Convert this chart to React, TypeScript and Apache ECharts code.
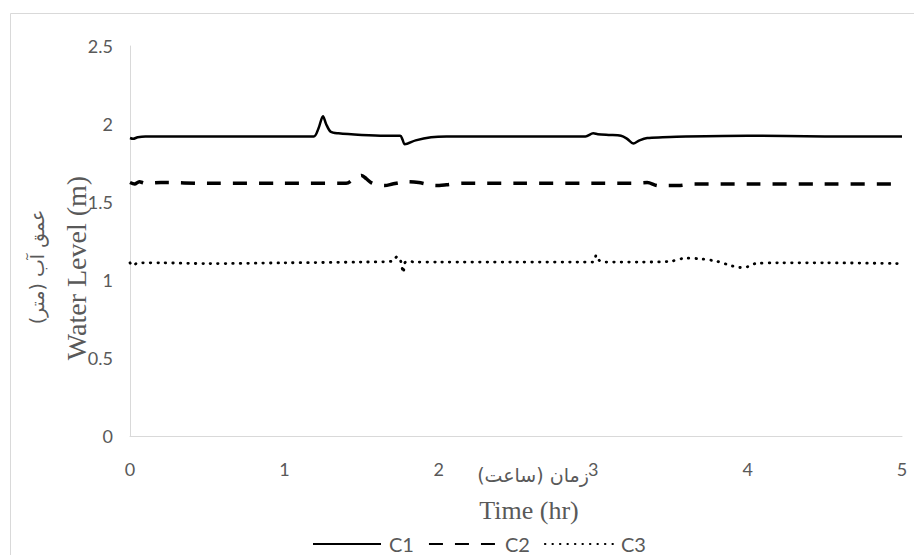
import React, { useEffect, useRef } from "react";
import * as echarts from "echarts";

const xTicks = [0, 1, 2, 3, 4, 5];
const yTicks = [0, 0.5, 1, 1.5, 2, 2.5];

const c1Time = [0, 0.02, 0.05, 0.1, 0.5, 1.0, 1.19, 1.22, 1.25, 1.27, 1.3, 1.35, 1.5, 1.65, 1.75, 1.765, 1.78, 1.85, 1.95, 2.05, 2.5, 2.95, 3.0, 3.03, 3.1, 3.18, 3.22, 3.26, 3.3, 3.35, 3.45, 3.6, 4.0, 4.5, 5.0];
const c1Level = [1.91, 1.905, 1.915, 1.92, 1.92, 1.92, 1.92, 1.97, 2.05, 2.0, 1.95, 1.94, 1.93, 1.925, 1.925, 1.9, 1.87, 1.895, 1.915, 1.92, 1.92, 1.92, 1.94, 1.935, 1.93, 1.925, 1.905, 1.875, 1.895, 1.91, 1.915, 1.92, 1.925, 1.92, 1.92];

const c2Time = [0, 0.03, 0.06, 0.1, 0.2, 0.5, 1.0, 1.4, 1.46, 1.5, 1.53, 1.56, 1.6, 1.65, 1.7, 1.75, 1.8, 1.87, 1.92, 1.98, 2.05, 2.15, 2.5, 3.0, 3.25, 3.35, 3.42, 3.55, 3.65, 4.0, 4.5, 5.0];
const c2Level = [1.625, 1.615, 1.63, 1.62, 1.625, 1.62, 1.62, 1.62, 1.655, 1.67, 1.65, 1.625, 1.61, 1.605, 1.615, 1.625, 1.63, 1.625, 1.615, 1.605, 1.61, 1.62, 1.62, 1.62, 1.62, 1.625, 1.605, 1.605, 1.615, 1.615, 1.615, 1.615];

const c3Time = [0, 0.02, 0.04, 0.08, 0.2, 0.5, 1.0, 1.5, 1.7, 1.73, 1.75, 1.76, 1.77, 1.78, 1.8, 1.85, 2.0, 2.5, 3.0, 3.02, 3.04, 3.08, 3.3, 3.5, 3.6, 3.7, 3.8, 3.9, 3.95, 4.0, 4.05, 4.2, 4.5, 5.0];
const c3Level = [1.11, 1.09, 1.105, 1.11, 1.11, 1.105, 1.11, 1.115, 1.12, 1.15, 1.13, 1.09, 1.045, 1.11, 1.12, 1.115, 1.115, 1.115, 1.115, 1.16, 1.125, 1.115, 1.115, 1.12, 1.14, 1.135, 1.12, 1.09, 1.08, 1.085, 1.105, 1.11, 1.11, 1.105];

const seriesNames = ["C1", "C2", "C3"];

const pair = (t: number[], v: number[]) => t.map((x, i) => [x, v[i]]);

export default function App() {
  const ref = useRef<HTMLDivElement>(null);
  useEffect(() => {
    if (!ref.current) return;
    const chart = echarts.init(ref.current, undefined, { renderer: "svg" });
    const labelFont = "Lato, 'Open Sans', sans-serif";
    const grey = "#595959";
    chart.setOption({
      animation: false,
      backgroundColor: "#ffffff",
      grid: { left: 130, right: 12, top: 46, bottom: 119 },
      xAxis: {
        type: "value",
        min: xTicks[0],
        max: xTicks[xTicks.length - 1],
        interval: 1,
        axisLine: { show: true, lineStyle: { color: "#d9d9d9", width: 1 } },
        axisTick: { show: false },
        splitLine: { show: false },
        axisLabel: { color: grey, fontSize: 18, fontFamily: labelFont, margin: 24 },
      },
      yAxis: {
        type: "value",
        min: yTicks[0],
        max: yTicks[yTicks.length - 1],
        interval: 0.5,
        axisLine: { show: true, lineStyle: { color: "#d9d9d9", width: 1 } },
        axisTick: { show: false },
        splitLine: { show: false },
        axisLabel: { color: grey, fontSize: 18, fontFamily: labelFont, margin: 17 },
      },
      legend: {
        left: 307,
        top: 529,
        itemWidth: 68,
        itemHeight: 14,
        itemGap: 14,
        itemStyle: { opacity: 0 },
        textStyle: { color: grey, fontSize: 20, fontFamily: labelFont, padding: [0, 0, 0, 3] },
        data: seriesNames,
      },
      graphic: [
        {
          type: "rect",
          shape: { x: 10.5, y: 13.5, width: 930, height: 600 },
          style: { fill: "none", stroke: "#d9d9d9", lineWidth: 1 },
          silent: true,
        },
        {
          type: "text",
          x: 76,
          y: 268,
          rotation: Math.PI / 2,
          style: {
            text: "Water Level (m)",
            fill: grey,
            font: "28px 'Liberation Serif', serif",
            align: "center",
            verticalAlign: "middle",
          },
        },
        {
          type: "text",
          x: 37,
          y: 267,
          rotation: Math.PI / 2,
          style: {
            text: "عمق آب (متر)",
            fill: grey,
            font: "19px 'DejaVu Sans', sans-serif",
            align: "center",
            verticalAlign: "middle",
          },
        },
        {
          type: "text",
          x: 529,
          y: 510,
          style: {
            text: "Time (hr)",
            fill: grey,
            font: "26px 'Liberation Serif', serif",
            align: "center",
            verticalAlign: "middle",
          },
        },
        {
          type: "text",
          x: 533,
          y: 475,
          style: {
            text: "زمان (ساعت)",
            fill: grey,
            font: "19px 'DejaVu Sans', sans-serif",
            align: "center",
            verticalAlign: "middle",
          },
        },
      ],
      series: [
        {
          name: seriesNames[0],
          type: "line",
          data: pair(c1Time, c1Level),
          showSymbol: false,
          symbol: "none",
          smooth: 0.3,
          lineStyle: { color: "#000", width: 2.5, type: "solid" },
          itemStyle: { color: "#000" },
        },
        {
          name: seriesNames[1],
          type: "line",
          data: pair(c2Time, c2Level),
          showSymbol: false,
          symbol: "none",
          smooth: 0.3,
          lineStyle: { color: "#000", width: 3.5, type: [14, 12] },
          itemStyle: { color: "#000" },
        },
        {
          name: seriesNames[2],
          type: "line",
          data: pair(c3Time, c3Level),
          showSymbol: false,
          symbol: "none",
          smooth: 0.3,
          lineStyle: { color: "#000", width: 2.8, type: [0.5, 7], cap: "round" },
          itemStyle: { color: "#000" },
        },
      ],
    });
    return () => chart.dispose();
  }, []);
  return (
    <div
      ref={ref}
      style={{ position: "absolute", left: 0, top: 0, width: 914, height: 555, background: "#fff" }}
    />
  );
}
